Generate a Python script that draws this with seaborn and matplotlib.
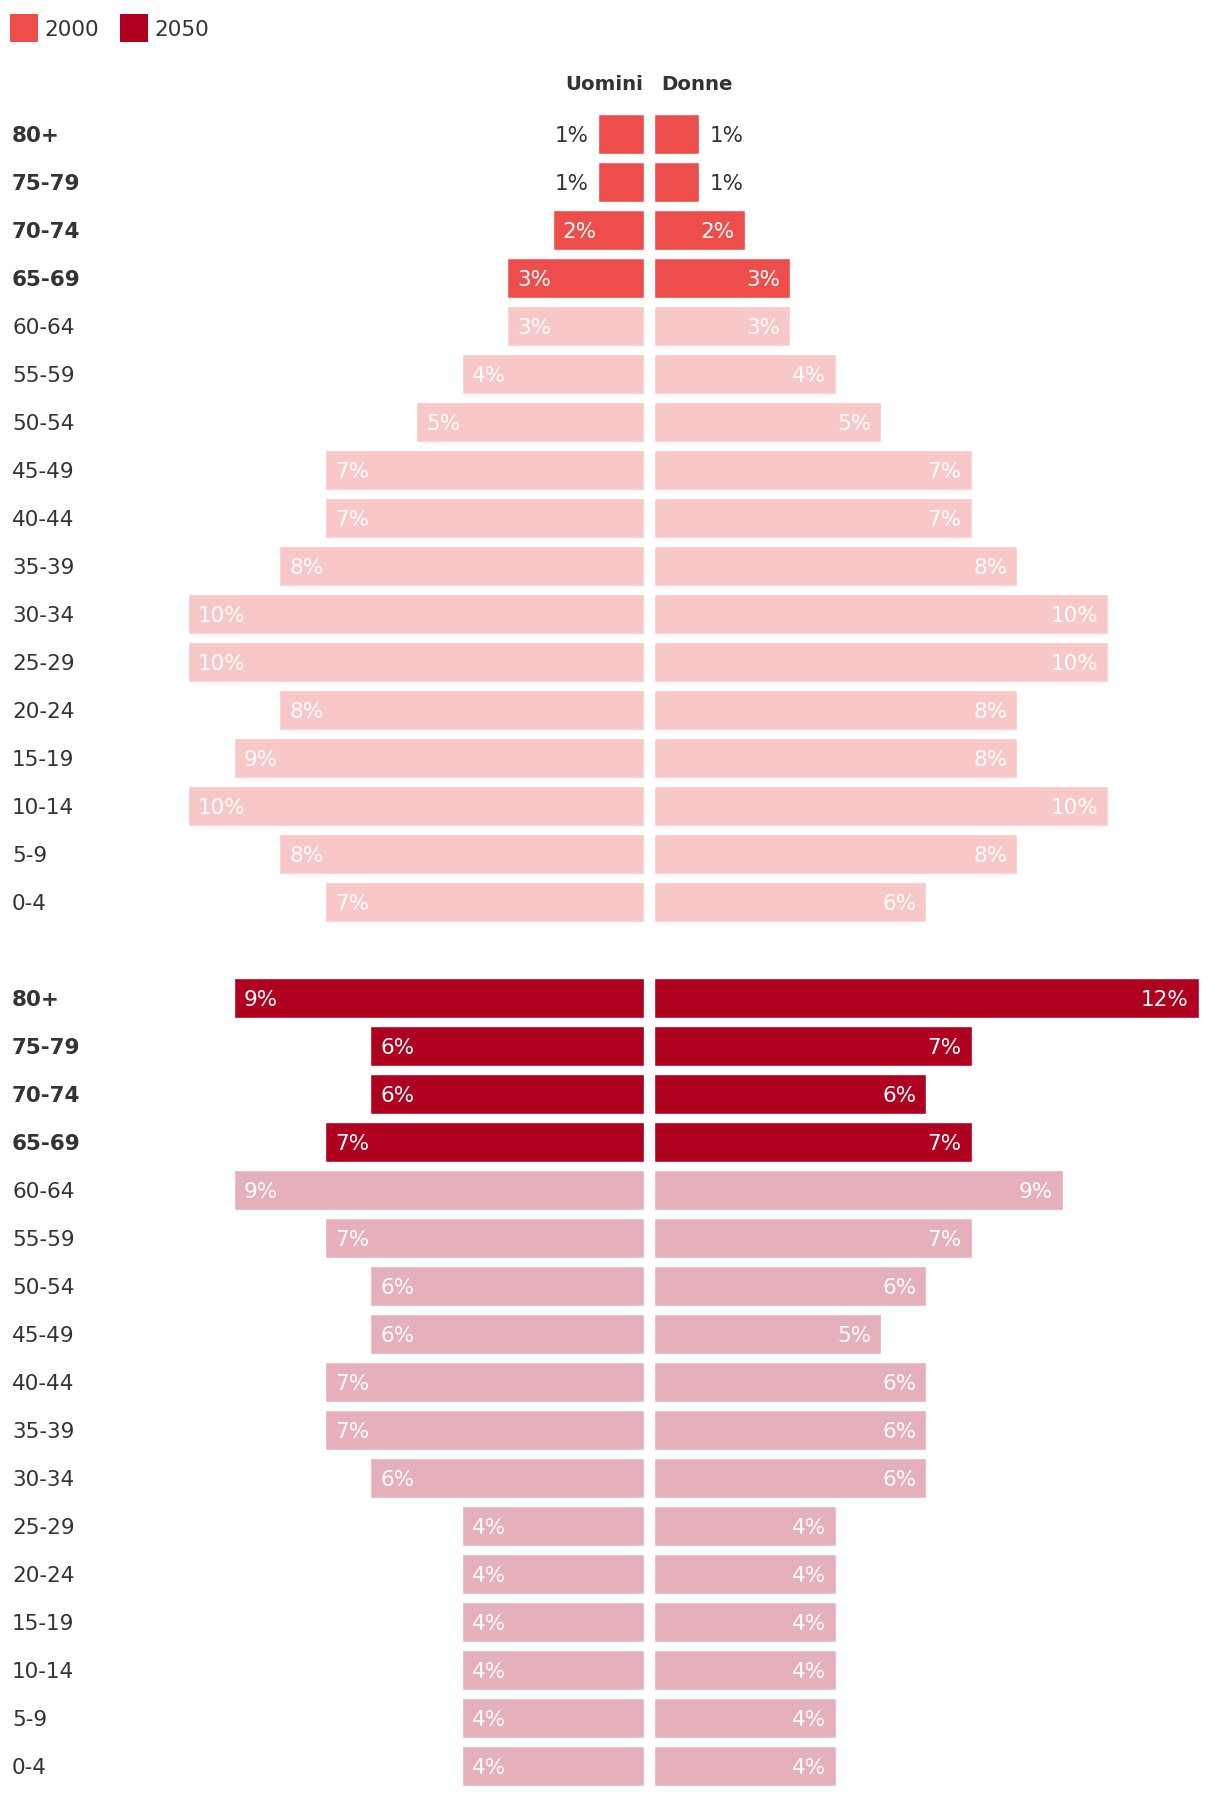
import numpy as np
import pandas as pd
import matplotlib
matplotlib.use("Agg")
import matplotlib.pyplot as plt
import seaborn as sns
from matplotlib.patches import Rectangle
from matplotlib.transforms import blended_transform_factory

# ---------------- data ----------------
ages = ["80+", "75-79", "70-74", "65-69", "60-64", "55-59", "50-54", "45-49",
        "40-44", "35-39", "30-34", "25-29", "20-24", "15-19", "10-14", "5-9", "0-4"]
highlight_ages = ["80+", "75-79", "70-74", "65-69"]
years = ["2000", "2050"]
men_2000 = [1, 1, 2, 3, 3, 4, 5, 7, 7, 8, 10, 10, 8, 9, 10, 8, 7]
women_2000 = [1, 1, 2, 3, 3, 4, 5, 7, 7, 8, 10, 10, 8, 8, 10, 8, 6]
men_2050 = [9, 6, 6, 7, 9, 7, 6, 6, 7, 7, 6, 4, 4, 4, 4, 4, 4]
women_2050 = [12, 7, 6, 7, 9, 7, 6, 5, 6, 6, 6, 4, 4, 4, 4, 4, 4]
header_left = "Uomini"
header_right = "Donne"

# ---------------- styles ----------------
palette = {
    "2000_hl": "#EE4E4B",
    "2000_lt": "#F8C8C8",
    "2050_hl": "#B0001F",
    "2050_lt": "#E6B0BA",
}
TXT = "#333333"
FS = 15.5

rows = []
for yi, (year, men, women) in enumerate([("2000", men_2000, women_2000),
                                          ("2050", men_2050, women_2050)]):
    for i, age in enumerate(ages):
        rows.append({
            "age": age,
            "year": year,
            "pos": yi * (len(ages) + 1) + i,
            "men": men[i],
            "women": women[i],
            "group": f"{year}_{'hl' if age in highlight_ages else 'lt'}",
        })
df = pd.DataFrame(rows)

sns.set_theme(style="white")
plt.rcParams["font.family"] = ["DejaVu Sans"]

W, H = 1220, 1798
fig = plt.figure(figsize=(W / 100, H / 100), dpi=100)

PXL = 45.6         # pixels per percent (left)
PXR = 45.4         # pixels per percent (right)
XMAX = 12.2
centre_l, centre_r = 644, 654
top_px = 110
nrows = len(ages) * 2 + 1
pitch = 48
bot_px = top_px + nrows * pitch

def fx(px):
    return px / W

ax_b = 1 - bot_px / H
ax_h = (bot_px - top_px) / H
axL = fig.add_axes([fx(centre_l - XMAX * PXL), ax_b, fx(XMAX * PXL), ax_h])
axR = fig.add_axes([fx(centre_r), ax_b, fx(XMAX * PXR), ax_h])

for ax, col in [(axL, "men"), (axR, "women")]:
    sns.barplot(data=df, x=col, y="pos", hue="group", palette=palette,
                orient="h", native_scale=True, dodge=False, width=40 / 48,
                errorbar=None, saturation=1, legend=False, ax=ax)
    ax.set_ylim(nrows - 0.5, -0.5)
    ax.set_axis_off()
axL.set_xlim(XMAX, 0)
axR.set_xlim(0, XMAX)

# baseline offset so that cap height is centred on the bar
font_px = FS * 100 / 72
base_off = 0.729 * font_px / 2 / pitch

for _, r in df.iterrows():
    for ax, v, side, px in [(axL, r["men"], "L", PXL), (axR, r["women"], "R", PXR)]:
        pad = 10 / px
        label = f"{v}%"
        y = r["pos"] + base_off
        if v < 1.5:
            ax.text(v + pad, y, label, ha="right" if side == "L" else "left",
                    va="baseline", color=TXT, fontsize=FS)
        else:
            ax.text(v - pad, y, label, ha="left" if side == "L" else "right",
                    va="baseline", color="white", fontsize=FS)

# age labels
tr = blended_transform_factory(fig.transFigure, axL.transData)
for _, r in df.iterrows():
    axL.text(fx(12), r["pos"] + base_off, r["age"], transform=tr, ha="left",
             va="baseline", color=TXT, fontsize=FS,
             fontweight="bold" if r["age"] in highlight_ages else "normal")

# headers
fig.text(fx(643), 1 - 84 / H, header_left, ha="right", va="center",
         fontsize=14.2, fontweight="bold", color=TXT)
fig.text(fx(661), 1 - 84 / H, header_right, ha="left", va="center",
         fontsize=14.2, fontweight="bold", color=TXT)

# legend
lx = [10, 120]
for year, x0 in zip(years, lx):
    fig.add_artist(Rectangle((fx(x0), 1 - 42 / H), fx(28), 28 / H,
                             transform=fig.transFigure,
                             facecolor=palette[f"{year}_hl"], edgecolor="none"))
    fig.text(fx(x0 + 34), 1 - (28 + 0.729 * font_px / 2) / H, year,
             ha="left", va="baseline", fontsize=FS, color=TXT)

fig.savefig("out.png", dpi=100, facecolor="white")
